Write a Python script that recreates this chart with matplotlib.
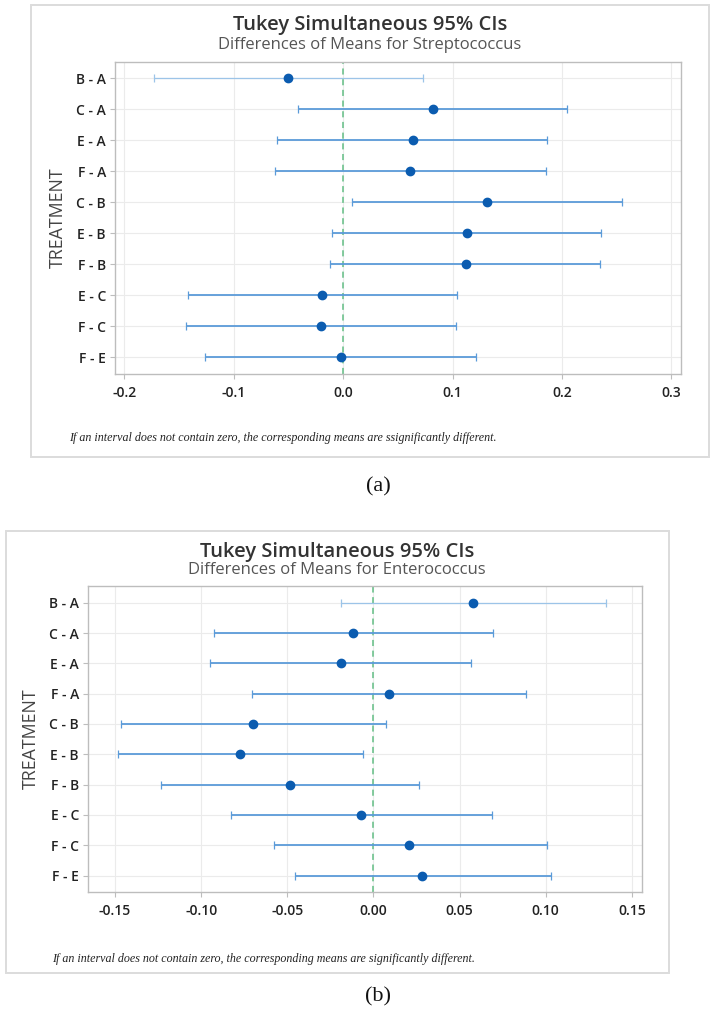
import matplotlib
matplotlib.use("Agg")
import matplotlib.pyplot as plt
from matplotlib.patches import Rectangle
import numpy as np

W, H = 716, 1009

# ---------------- data ----------------
comparisons = ["B - A", "C - A", "E - A", "F - A", "C - B",
               "E - B", "F - B", "E - C", "F - C", "F - E"]

strep_center = [-0.050, 0.082, 0.0635, 0.061, 0.1315, 0.113, 0.112, -0.019, -0.020, -0.0015]
strep_lower = [-0.173, -0.041, -0.060, -0.062, 0.008, -0.010, -0.012, -0.142, -0.144, -0.126]
strep_upper = [0.073, 0.2047, 0.1867, 0.1855, 0.2547, 0.236, 0.235, 0.1043, 0.1031, 0.1214]
strep_ticks = [-0.2, -0.1, 0.0, 0.1, 0.2, 0.3]
strep_ticklabels = ["-0.2", "-0.1", "0.0", "0.1", "0.2", "0.3"]

ent_center = [0.0578, -0.0118, -0.0191, 0.0089, -0.0698, -0.0773, -0.0485, -0.0071, 0.0209, 0.0284]
ent_lower = [-0.0186, -0.0928, -0.0947, -0.0702, -0.1463, -0.1483, -0.1235, -0.0827, -0.0578, -0.0454]
ent_upper = [0.1348, 0.0692, 0.0565, 0.0886, 0.0072, -0.0058, 0.0265, 0.0687, 0.1006, 0.1029]
ent_ticks = [-0.15, -0.10, -0.05, 0.00, 0.05, 0.10, 0.15]
ent_ticklabels = ["-0.15", "-0.10", "-0.05", "0.00", "0.05", "0.10", "0.15"]

title = "Tukey Simultaneous 95% CIs"
sub_a = "Differences of Means for Streptococcus"
sub_b = "Differences of Means for Enterococcus"
note_a = "If an interval does not contain zero, the corresponding means are ssignificantly different."
note_b = "If an interval does not contain zero, the corresponding means are significantly different."

SANS = ["Open Sans", "DejaVu Sans"]
SERIF = ["Liberation Serif", "DejaVu Serif"]

fig = plt.figure(figsize=(W / 100, H / 100), dpi=100)
fig.patch.set_facecolor("white")


def rect(l, t, r, b):
    return [l / W, 1 - b / H, (r - l) / W, (b - t) / H]


def fx(x):
    return x / W


def fy(y):
    return 1 - y / H


def box(l, t, r, b):
    fig.patches.append(Rectangle((fx(l), fy(b)), (r - l) / W, (b - t) / H,
                                 transform=fig.transFigure, fill=False,
                                 edgecolor="#DCDCDC", linewidth=1.4))


def panel(axr, xlim, ylim_pad, ticks, ticklabels, center, lower, upper):
    ax = fig.add_axes(axr)
    y = np.arange(len(comparisons))
    c = np.array(center)
    lo = np.array(lower)
    hi = np.array(upper)
    ax.set_xlim(*xlim)
    ax.set_ylim(len(comparisons) - 1 + ylim_pad, -ylim_pad)
    ax.set_xticks(ticks)
    ax.set_xticklabels(ticklabels)
    ax.set_yticks(y)
    ax.set_yticklabels(comparisons)
    ax.grid(True, color="#EBEBEB", linewidth=0.8)
    ax.set_axisbelow(True)
    ax.axvline(0, color="#62BE84", linestyle=(0, (4, 3)), linewidth=1.1, zorder=2)
    for i in range(len(comparisons)):
        col = "#9CC4E8" if i == 0 else "#5B9BD9"
        lw = 0.9 if i == 0 else 1.3
        ax.errorbar([c[i]], [y[i]], xerr=[[c[i] - lo[i]], [hi[i] - c[i]]],
                    fmt="none", ecolor=col, elinewidth=lw, capsize=2.6,
                    capthick=0.9, zorder=3)
    ax.plot(c, y, "o", color="#0B5CB0", markersize=6, zorder=4)
    for s in ax.spines.values():
        s.set_color("#BDBDBD")
        s.set_linewidth(1.0)
    ax.tick_params(axis="both", colors="#BDBDBD", length=3.5, width=0.8,
                   labelcolor="#222222", labelsize=10)
    ax.tick_params(axis="x", pad=5)
    ax.tick_params(axis="y", pad=3)
    for lab in ax.get_xticklabels() + ax.get_yticklabels():
        lab.set_fontfamily(SANS)
        lab.set_fontweight("semibold")
    return ax


# ---------------- panel (a) ----------------
box(31, 5, 709, 457)
panel(rect(115, 61.7, 681, 373.7), (-0.2085, 0.3088), 0.53,
      strep_ticks, strep_ticklabels, strep_center, strep_lower, strep_upper)
fig.text(fx(370), fy(25), title, ha="center", va="center", fontsize=14.5,
         family=SANS, fontweight="semibold", color="#333333")
fig.text(fx(370), fy(45), sub_a, ha="center", va="center", fontsize=12,
         family=SANS, color="#555555")
fig.text(fx(57.7), fy(217.7), "TREATMENT", ha="center", va="center", rotation=90,
         fontsize=12.8, family=SANS, color="#444444")
fig.text(fx(69), fy(437.7), note_a, ha="left", va="center", fontsize=8.65,
         family=SERIF, style="italic", color="#222222")
fig.text(fx(378), fy(487), "(a)", ha="center", va="center", fontsize=16,
         family=SERIF, color="#111111")

# ---------------- panel (b) ----------------
box(5.5, 531, 669, 973)
panel(rect(88, 586, 641.6, 892.3), (-0.1657, 0.1557), 0.55,
      ent_ticks, ent_ticklabels, ent_center, ent_lower, ent_upper)
fig.text(fx(337), fy(552), title, ha="center", va="center", fontsize=14.5,
         family=SANS, fontweight="semibold", color="#333333")
fig.text(fx(337), fy(570), sub_b, ha="center", va="center", fontsize=12,
         family=SANS, color="#555555")
fig.text(fx(31), fy(739), "TREATMENT", ha="center", va="center", rotation=90,
         fontsize=12.8, family=SANS, color="#444444")
fig.text(fx(52.5), fy(959), note_b, ha="left", va="center", fontsize=8.65,
         family=SERIF, style="italic", color="#222222")
fig.text(fx(378), fy(997), "(b)", ha="center", va="center", fontsize=16,
         family=SERIF, color="#111111")

fig.savefig("out.png", dpi=100, facecolor="white")
